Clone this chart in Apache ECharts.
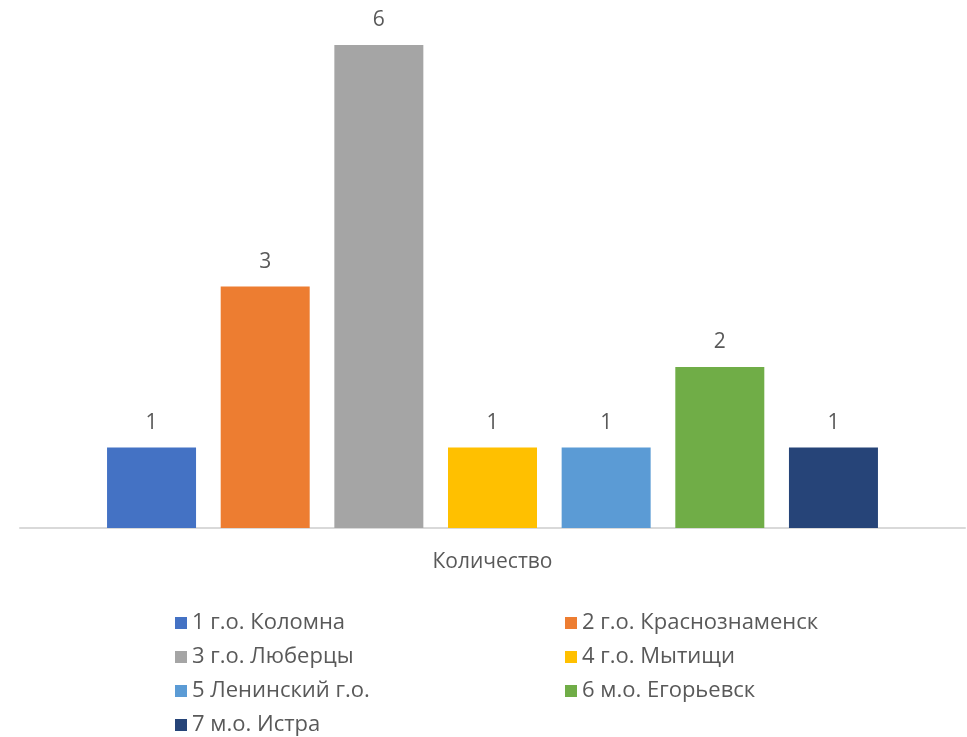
<!DOCTYPE html>
<html>
<head>
<meta charset="utf-8">
<script src="https://cdn.jsdelivr.net/npm/echarts@6/dist/echarts.min.js"></script>
<style>
  html, body { margin: 0; padding: 0; background: #fff; }
  #chart { width: 967px; height: 737px; }
</style>
</head>
<body>
<div id="chart"></div>
<script>
// data
const categories = ['Количество'];
const seriesNames = [
    '1 г.о. Коломна',
    '2 г.о. Краснознаменск',
    '3 г.о. Люберцы',
    '4 г.о. Мытищи',
    '5 Ленинский г.о.',
    '6 м.о. Егорьевск',
    '7 м.о. Истра'
];
const counts = [1, 3, 6, 1, 1, 2, 1];
const colors = ['#4472C4', '#ED7D31', '#A5A5A5', '#FFC000', '#5B9BD5', '#70AD47', '#264478'];

const textColor = '#595959';
const fontFamily = '"Open Sans", "Noto Sans", sans-serif';

const chart = echarts.init(document.getElementById('chart'));

// one series per district, each with a single bar
const series = seriesNames.map((name, i) => ({
    name: name,
    type: 'bar',
    data: [counts[i]],
    barWidth: 89,
    barGap: '27.7%',
    itemStyle: { color: colors[i] },
    label: {
        show: true,
        position: 'top',
        distance: 14,
        color: textColor,
        fontSize: 21,
        fontFamily: fontFamily
    }
}));

const option = {
    backgroundColor: '#fff',
    animation: false,
    color: colors,
    grid: {
        left: 20,
        right: 2,
        top: 45,
        bottom: 209
    },
    xAxis: {
        type: 'category',
        data: categories,
        axisTick: { show: false },
        axisLine: { lineStyle: { color: '#d9d9d9', width: 2 } },
        axisLabel: {
            color: textColor,
            fontSize: 21,
            fontFamily: fontFamily,
            margin: 24
        }
    },
    yAxis: {
        type: 'value',
        min: 0,
        max: 6,
        show: false
    },
    legend: {
        data: seriesNames,
        left: 175,
        top: 611,
        width: 790,
        padding: 0,
        orient: 'horizontal',
        icon: 'rect',
        itemWidth: 12,
        itemHeight: 12,
        itemGap: 10,
        textStyle: {
            color: textColor,
            fontSize: 22,
            fontFamily: fontFamily,
            width: 363,
            lineHeight: 24
        }
    },
    series: series
};

chart.setOption(option);
</script>
</body>
</html>
